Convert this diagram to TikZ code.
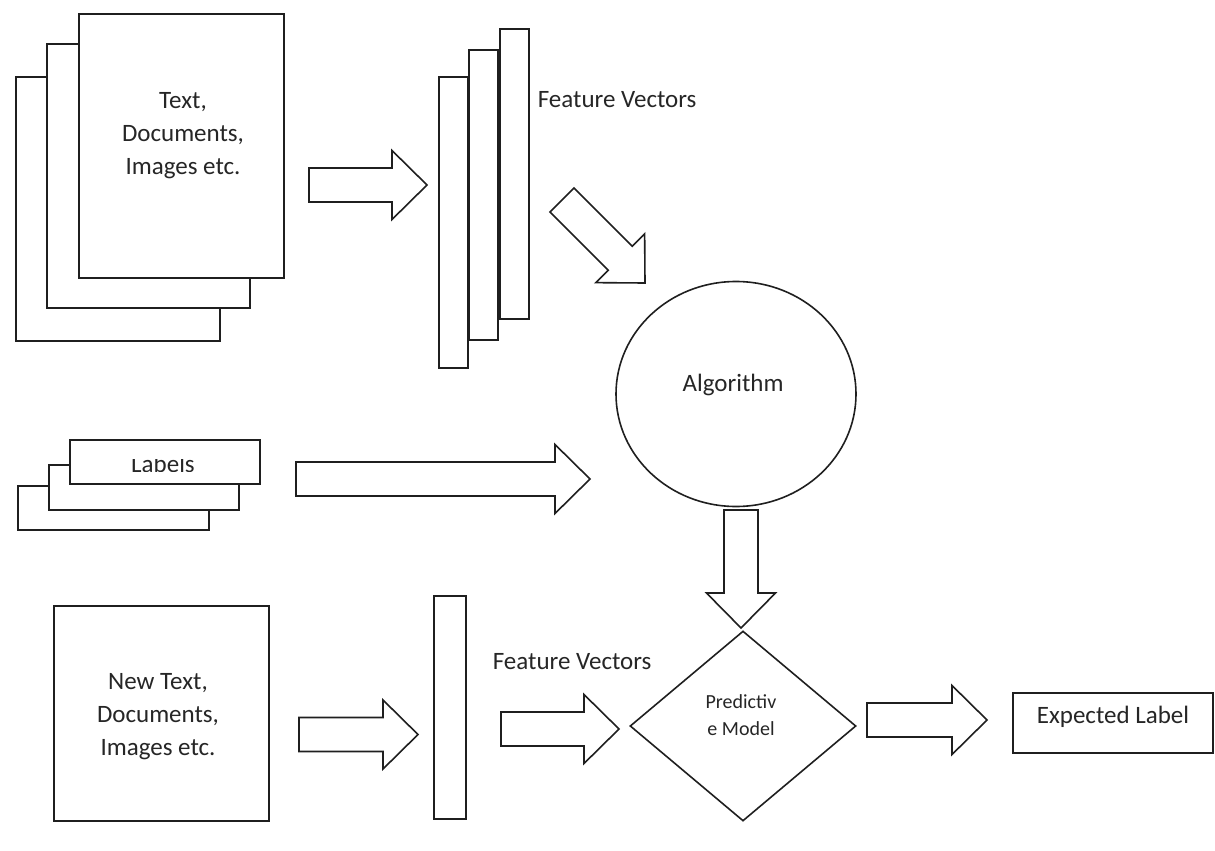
\documentclass[tikz,border=0pt]{standalone}
\usepackage{fontspec}
\setmainfont{Carlito}
\usetikzlibrary{calc,shapes.geometric}
\begin{document}
\begin{tikzpicture}[x=1pt,y=-1pt,
  line width=1.6pt,
  ink/.style={draw=black!88},
  page/.style={ink, fill=white, rectangle, inner sep=0pt, anchor=north west},
  txt/.style={font=\fontsize{25}{33}\selectfont, text=black!85, inner sep=0pt, align=center},
  smalltxt/.style={font=\fontsize{20}{27}\selectfont, text=black!85, inner sep=0pt, align=center},
  % hollow block arrow from the tail centre to the tip
  blockarrow/.style={ink, fill=white, line join=miter,
    to path={let \p1=(\tikztostart), \p2=(\tikztotarget),
                 \p3=($(\tikztotarget)!35pt!(\tikztostart)$) in
      ($(\p1)!17pt!90:(\p2)$) -- ($(\p3)!17pt!90:(\p2)$) -- ($(\p3)!34.5pt!90:(\p2)$)
      -- (\p2) -- ($(\p3)!34.5pt!-90:(\p2)$) -- ($(\p3)!17pt!-90:(\p2)$)
      -- ($(\p1)!17pt!-90:(\p2)$) -- cycle}},
]
\useasboundingbox (0,0) rectangle (1215,851);

% stack of input documents
\node[page, minimum width=204pt, minimum height=264pt] (docA) at (15,76) {};
\node[page, minimum width=203pt, minimum height=264pt] (docB) at (46,43) {};
\node[page, minimum width=205pt, minimum height=264pt] (docC) at (78,13) {};
\node[txt] (doctext) at (183,135.5) {Text,\\Documents,\\Images etc.};

% training feature vectors
\node[page, minimum width=29pt, minimum height=291pt] (fvA) at (438,76) {};
\node[page, minimum width=29pt, minimum height=290pt] (fvB) at (468,49) {};
\node[page, minimum width=29pt, minimum height=290pt] (fvC) at (499,28) {};
\node[txt, anchor=west] (fvtext) at (537,100) {Feature Vectors};

% algorithm
\node[ink, ellipse, minimum width=240pt, minimum height=225pt, inner sep=0pt] (algo) at (736,394) {};
\node[txt] (algotext) at (733,385) {Algorithm};

% stack of labels; the caption is cut off by its too-small text frame
\node[page, minimum width=191pt, minimum height=44pt] (labA) at (17,485) {};
\node[page, minimum width=190pt, minimum height=45pt] (labB) at (48,464) {};
\node[page, minimum width=190pt, minimum height=44pt] (labC) at (69,439) {};
\begin{scope}
  \clip (69,459.5) rectangle (259,471.8);
  \node[txt, anchor=base] (labtext) at (163,472) {Labels};
\end{scope}

% new input document
\node[page, minimum width=215pt, minimum height=215pt] (newdoc) at (53,605) {};
\node[txt] (newtext) at (158,716.5) {New Text,\\Documents,\\Images etc.};

% new feature vector
\node[page, minimum width=32pt, minimum height=223pt] (fvnew) at (433,595) {};
\node[txt, anchor=west] (fvnewtext) at (492,662) {Feature Vectors};

% predictive model
\node[ink, diamond, minimum width=226pt, minimum height=190pt, inner sep=0pt] (model) at (743,726) {};
\node[smalltxt] (modeltext) at (741,715.5) {Predictiv\\e Model};

% expected label
\node[page, minimum width=200pt, minimum height=60pt] (result) at (1012,692) {};
\node[txt] (resulttext) at (1113,717) {Expected Label};

% block arrows
\coordinate (a1s) at (309,185);   \coordinate (a1t) at (427,185);
\coordinate (a2s) at (562,200);   \coordinate (a2t) at (645,283);
\coordinate (a3s) at (296,479);   \coordinate (a3t) at (590,479);
\coordinate (a4s) at (741,510);   \coordinate (a4t) at (741,628);
\coordinate (a5s) at (299,734.5); \coordinate (a5t) at (418,734.5);
\coordinate (a6s) at (501,729);   \coordinate (a6t) at (619,729);
\coordinate (a7s) at (867,720);   \coordinate (a7t) at (987,720);
\draw[blockarrow] (a1s) to (a1t);
\draw[blockarrow] (a2s) to (a2t);
\draw[blockarrow] (a3s) to (a3t);
\draw[blockarrow] (a4s) to (a4t);
\draw[blockarrow] (a5s) to (a5t);
\draw[blockarrow] (a6s) to (a6t);
\draw[blockarrow] (a7s) to (a7t);
\end{tikzpicture}
\end{document}
